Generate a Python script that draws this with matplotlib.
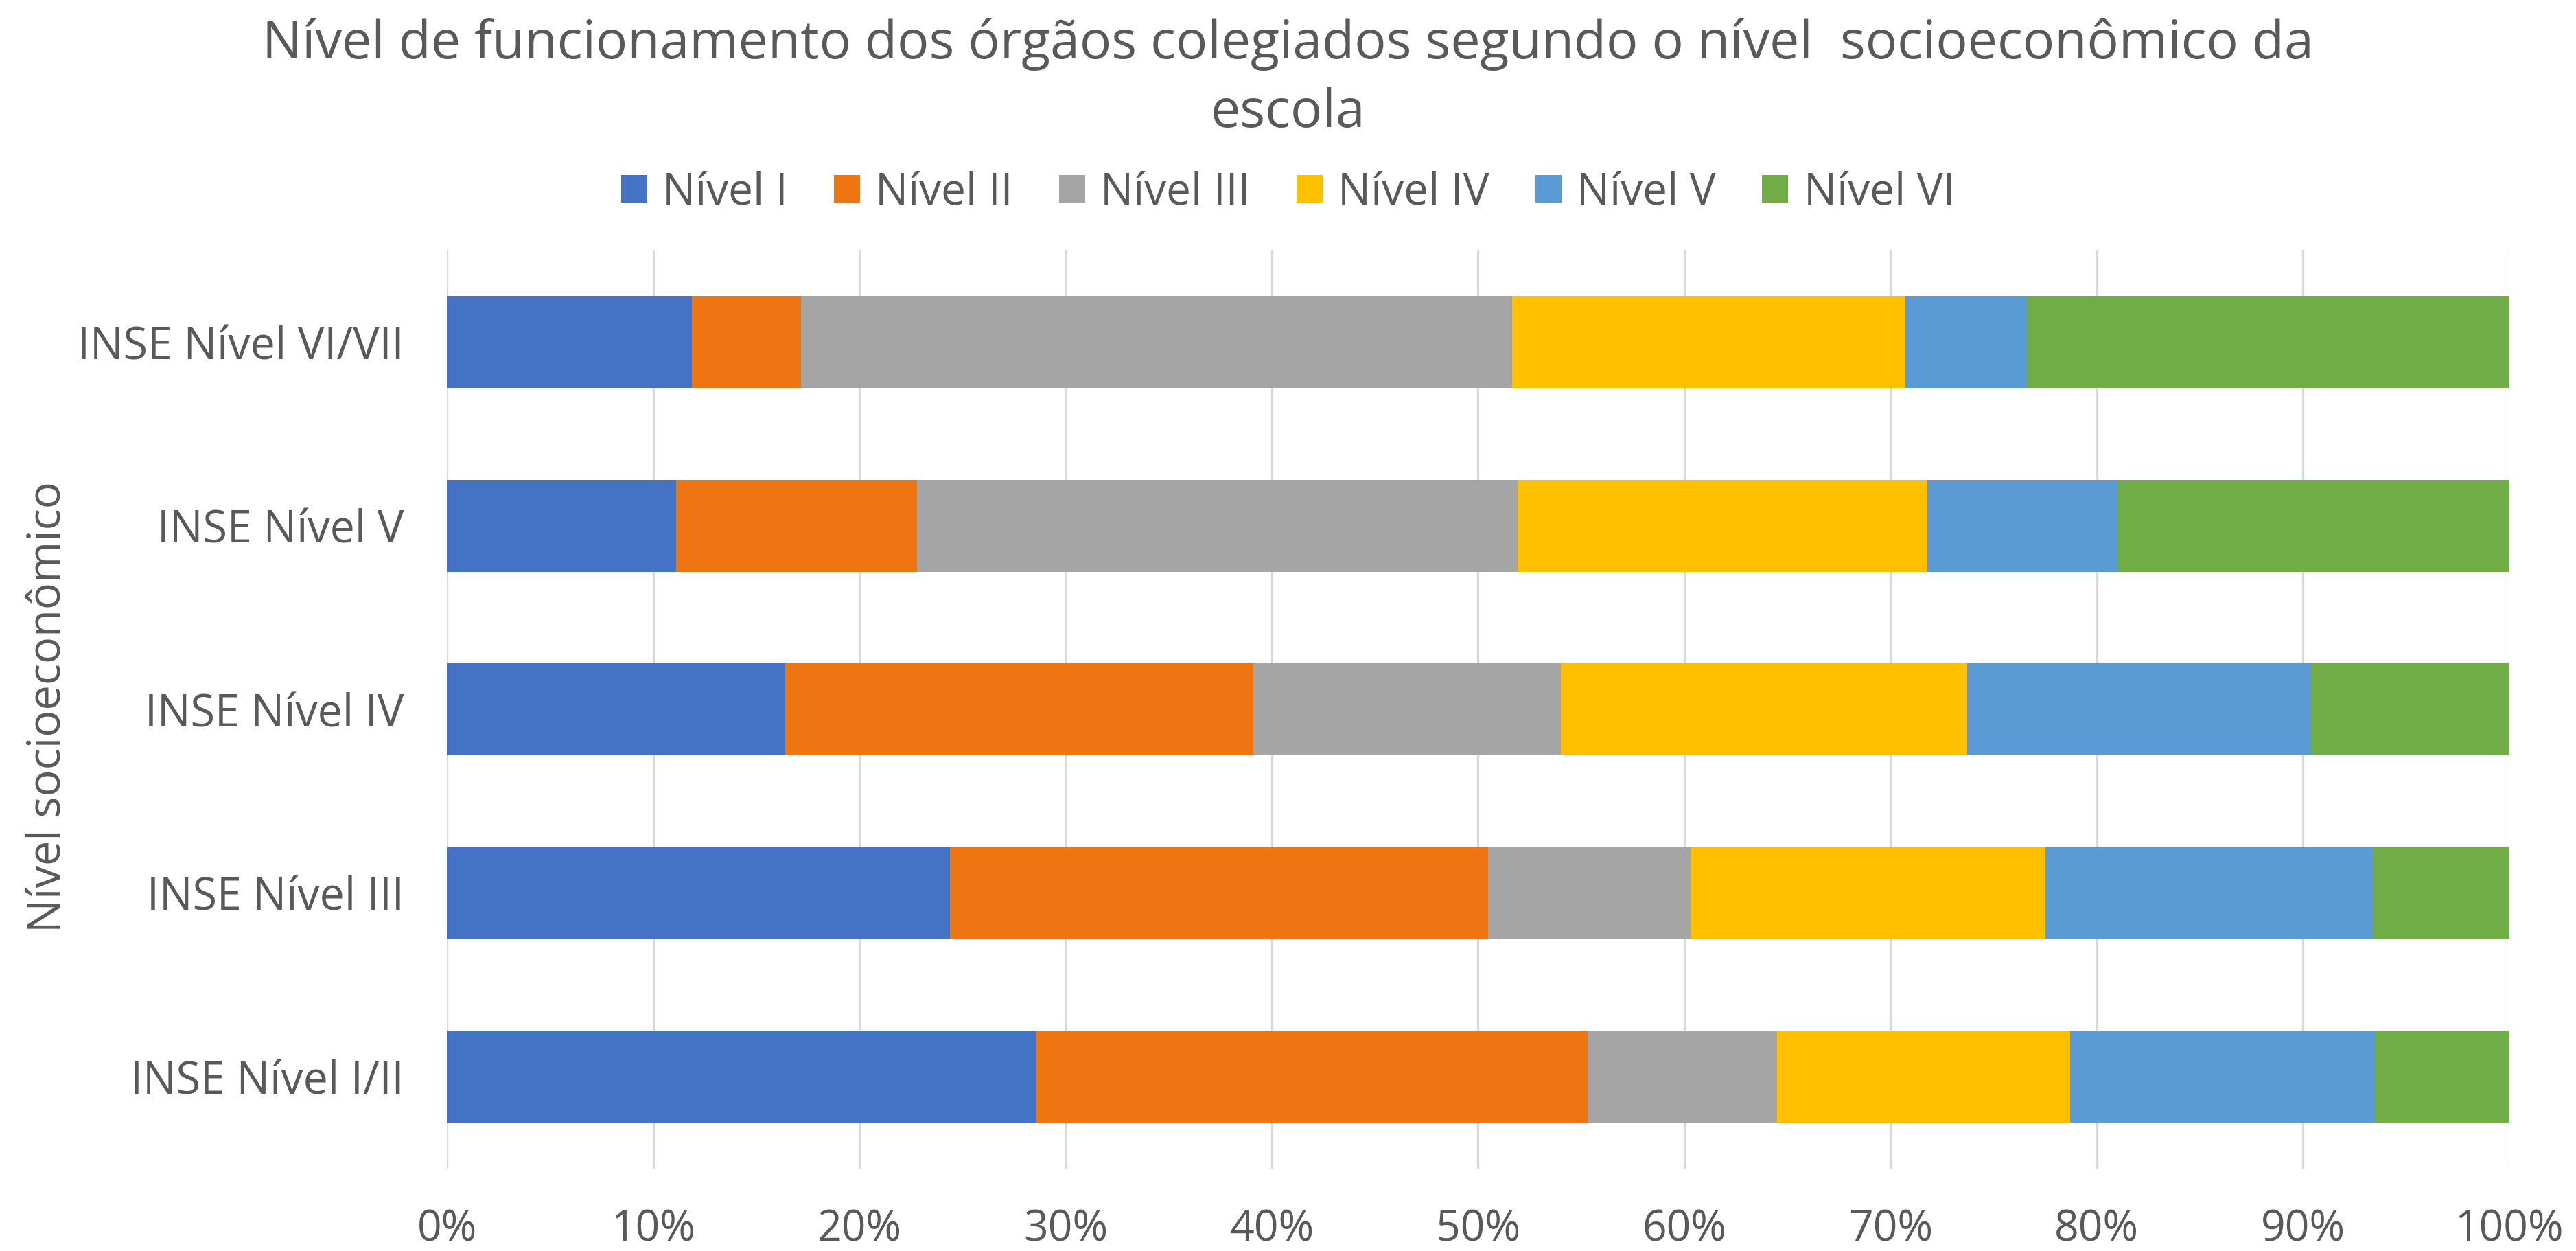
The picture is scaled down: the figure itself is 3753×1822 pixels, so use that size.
import numpy as np
import matplotlib.pyplot as plt
from matplotlib.patches import Patch

plt.rcParams['font.family'] = ['Open Sans', 'DejaVu Sans']

# categorias (de baixo para cima)
categorias = ['INSE Nível I/II', 'INSE Nível III', 'INSE Nível IV', 'INSE Nível V', 'INSE Nível VI/VII']
series = ['Nível I', 'Nível II', 'Nível III', 'Nível IV', 'Nível V', 'Nível VI']

# percentuais por nível de funcionamento
nivel_1 = [28.6, 24.4, 16.4, 11.1, 11.9]
nivel_2 = [26.7, 26.1, 22.7, 11.7, 5.3]
nivel_3 = [9.2, 9.8, 14.9, 29.1, 34.5]
nivel_4 = [14.2, 17.2, 19.7, 19.9, 19.1]
nivel_5 = [14.8, 15.9, 16.7, 9.2, 5.9]
nivel_6 = [6.5, 6.6, 9.6, 19.0, 23.4]

cores = ['#4472C4', '#EE7512', '#A5A5A5', '#FFC000', '#5B9BD5', '#70AD47']
cinza_texto = '#595959'

dados = np.array([nivel_1, nivel_2, nivel_3, nivel_4, nivel_5, nivel_6])
dados = dados / dados.sum(axis=0) * 100  # 100% empilhado

fig = plt.figure(figsize=(3753 / 300, 1822 / 300), dpi=300)
ax = fig.add_axes([0.1735, 0.0658, 0.8006, 0.7342])

y = np.arange(len(categorias))
base = np.zeros(len(categorias))
for i, nome in enumerate(series):
    ax.barh(y, dados[i], left=base, height=0.5, color=cores[i], label=nome, zorder=3, linewidth=0)
    base += dados[i]

ax.set_xlim(0, 100)
ax.set_ylim(-0.5, len(categorias) - 0.5)
ax.set_xticks(np.arange(0, 101, 10))
ax.set_xticklabels([f'{v}%' for v in range(0, 101, 10)])
ax.set_yticks(y)
ax.set_yticklabels(categorias)
ax.xaxis.grid(True, color='#D9D9D9', linewidth=0.8, zorder=0)
ax.tick_params(axis='x', length=0, pad=14, labelsize=15, labelcolor=cinza_texto)
ax.tick_params(axis='y', length=0, pad=15, labelsize=15.5, labelcolor=cinza_texto)
for s in ax.spines.values():
    s.set_visible(False)

fig.text(0.5, 0.937, 'Nível de funcionamento dos órgãos colegiados segundo o nível  socioeconômico da\nescola',
         ha='center', va='center', fontsize=18.5, color=cinza_texto, linespacing=1.4)

fig.text(0.019, 0.435, 'Nível socioeconômico', rotation=90, ha='center', va='center',
         fontsize=15.6, color=cinza_texto)

handles = [Patch(facecolor=c, edgecolor='none') for c in cores]
fig.legend(handles, series, loc='center', bbox_to_anchor=(0.5, 0.846), ncol=6, frameon=False,
           fontsize=15.3, labelcolor=cinza_texto, handlelength=0.6, handleheight=0.6,
           handletextpad=0.35, columnspacing=1.05)

fig.savefig('out.png', dpi=300, facecolor='white')
